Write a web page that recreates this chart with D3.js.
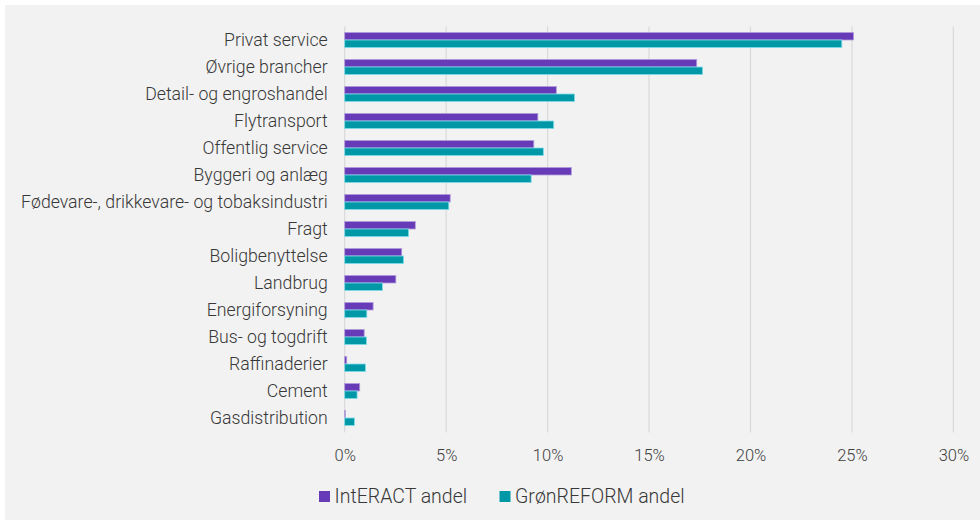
<!DOCTYPE html>
<html>
<head>
<meta charset="utf-8">
<script src="https://cdn.jsdelivr.net/npm/d3@7"></script>
<style>
  html, body { margin: 0; padding: 0; background: #ffffff; }
  svg { display: block; }
  text { font-family: Roboto, "Noto Sans", sans-serif; }
</style>
</head>
<body>
<svg id="chart" width="980" height="520"></svg>
<script>
// Sectors, top to bottom
const categories = [
  "Privat service",
  "Øvrige brancher",
  "Detail- og engroshandel",
  "Flytransport",
  "Offentlig service",
  "Byggeri og anlæg",
  "Fødevare-, drikkevare- og tobaksindustri",
  "Fragt",
  "Boligbenyttelse ",
  "Landbrug",
  "Energiforsyning",
  "Bus- og togdrift",
  "Raffinaderier",
  "Cement",
  "Gasdistribution"
];

// Share of total (percent)
const interactValues = [25.08, 17.35, 10.43, 9.52, 9.32, 11.17, 5.20, 3.48, 2.81, 2.52, 1.40, 0.96, 0.10, 0.74, 0.03];
const groenreformValues = [24.50, 17.64, 11.33, 10.30, 9.79, 9.19, 5.13, 3.15, 2.90, 1.86, 1.09, 1.07, 1.02, 0.61, 0.48];

const seriesNames = ["IntERACT andel", "GrønREFORM andel"];
const seriesColors = ["#673ab7", "#0097a7"];
const seriesStrokes = ["#b39ddb", "#80deea"];

const tickValues = [0, 5, 10, 15, 20, 25, 30];

const svg = d3.select("#chart");

// panel background
svg.append("rect")
  .attr("x", 5).attr("y", 5)
  .attr("width", 975).attr("height", 515)
  .attr("fill", "#f2f2f2");

const plot = { left: 344.7, right: 953.4, top: 26.5, bottom: 431.5 };

const x = d3.scaleLinear().domain([0, 30]).range([plot.left, plot.right]);
const y = d3.scaleBand().domain(categories).range([plot.top, plot.bottom]).paddingInner(0.44).paddingOuter(0.22);
const ySub = d3.scaleBand().domain(seriesNames).range([0, y.bandwidth()]);

// gridlines
svg.append("g")
  .selectAll("line")
  .data(tickValues)
  .join("line")
  .attr("x1", d => x(d)).attr("x2", d => x(d))
  .attr("y1", plot.top).attr("y2", plot.bottom + 1)
  .attr("stroke", "#d9d9d9")
  .attr("stroke-width", 1.2);

// x axis labels
const xAxis = d3.axisBottom(x).tickValues(tickValues).tickSize(0).tickPadding(0).tickFormat(d => d + "%");
const gx = svg.append("g").attr("transform", `translate(0,${plot.bottom})`).call(xAxis);
gx.select(".domain").remove();
gx.selectAll("text")
  .attr("dy", null)
  .attr("y", 29)
  .attr("fill", "#404040")
  .attr("font-size", 16.5)
  .attr("font-weight", 300)
  .style("font-family", "Roboto, sans-serif");

// category labels
const yAxis = d3.axisLeft(y).tickSize(0).tickPadding(0);
const gy = svg.append("g").attr("transform", `translate(${plot.left - 17},0)`).call(yAxis);
gy.select(".domain").remove();
gy.selectAll("text")
  .attr("fill", "#383838")
  .attr("font-size", 17.7)
  .attr("font-weight", 300)
  .style("font-family", "Roboto, sans-serif");

// bars
const rows = categories.map((c, i) => ({ cat: c, vals: [interactValues[i], groenreformValues[i]] }));
const groups = svg.append("g").selectAll("g")
  .data(rows)
  .join("g")
  .attr("transform", d => `translate(0,${y(d.cat)})`);

groups.selectAll("rect")
  .data(d => d.vals.map((v, j) => ({ v, j })))
  .join("rect")
  .attr("x", x(0))
  .attr("y", d => ySub(seriesNames[d.j]))
  .attr("width", d => x(d.v) - x(0))
  .attr("height", ySub.bandwidth())
  .attr("fill", d => seriesColors[d.j])
  .attr("stroke", d => seriesStrokes[d.j])
  .attr("stroke-width", 0.8);

// legend
const legendItems = [
  { name: seriesNames[0], color: seriesColors[0], x: 319 },
  { name: seriesNames[1], color: seriesColors[1], x: 499.5 }
];
const lg = svg.append("g").selectAll("g")
  .data(legendItems)
  .join("g")
  .attr("transform", d => `translate(${d.x},496.5)`);
lg.append("rect")
  .attr("x", 0).attr("y", -5.5)
  .attr("width", 11).attr("height", 11)
  .attr("fill", d => d.color);
lg.append("text")
  .attr("x", 15.5).attr("y", 0)
  .attr("dy", "0.35em")
  .attr("fill", "#383838")
  .attr("font-size", 19.5)
  .attr("font-weight", 300)
  .text(d => d.name);
</script>
</body>
</html>
